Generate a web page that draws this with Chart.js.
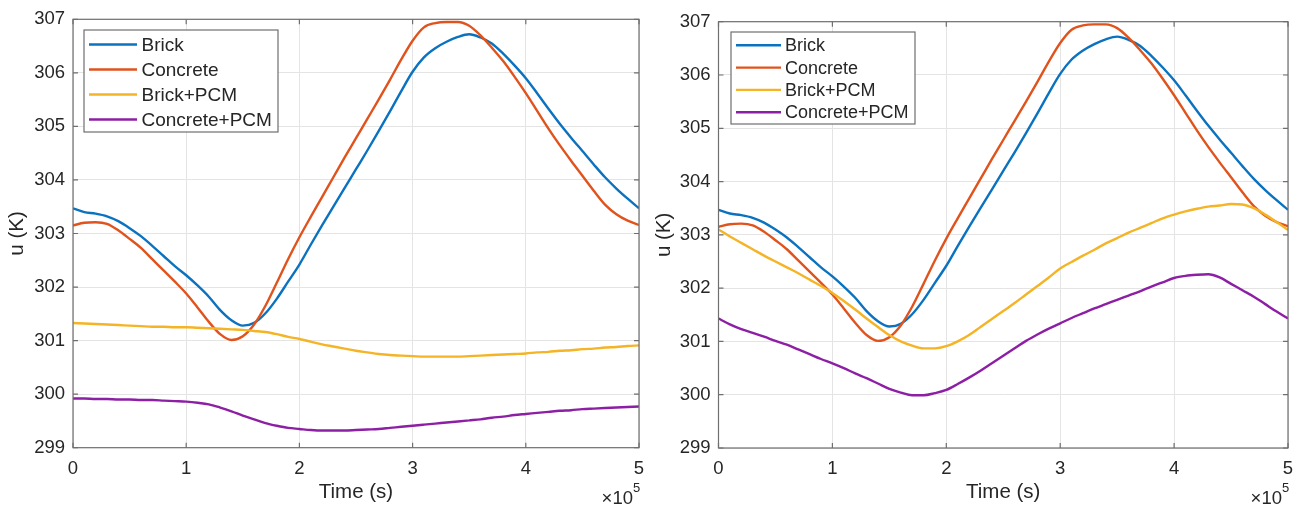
<!DOCTYPE html>
<html><head><meta charset="utf-8">
<script src="https://cdn.jsdelivr.net/npm/chart.js@4.4.0/dist/chart.umd.min.js"></script>
<style>
html,body{margin:0;padding:0;background:#fff;width:1301px;height:507px;overflow:hidden}
#c1{position:absolute;left:0;top:0}
#c2{position:absolute;left:650px;top:0}
</style></head><body>
<canvas id="c1" width="650" height="507"></canvas>
<canvas id="c2" width="651" height="507"></canvas>
<script>
// ---- data (time in units of 1e5 s, temperature u in K) ----
const seriesLabels = ['Brick', 'Concrete', 'Brick+PCM', 'Concrete+PCM'];
const xTicks = [0, 1, 2, 3, 4, 5];
const yTicks = [299, 300, 301, 302, 303, 304, 305, 306, 307];
const time = [0,0.1,0.2,0.3,0.4,0.5,0.6,0.7,0.8,0.9,1,1.1,1.2,1.3,1.4,1.5,1.6,1.7,1.8,1.9,2,2.1,2.2,2.3,2.4,2.5,2.6,2.7,2.8,2.9,3,3.1,3.2,3.3,3.4,3.5,3.6,3.7,3.8,3.9,4,4.1,4.2,4.3,4.4,4.5,4.6,4.7,4.8,4.9,5];
const brick = [303.47,303.40,303.37,303.32,303.23,303.10,302.95,302.77,302.58,302.39,302.22,302.03,301.82,301.57,301.38,301.28,301.33,301.51,301.78,302.10,302.42,302.79,303.15,303.50,303.85,304.20,304.55,304.91,305.28,305.66,306.02,306.29,306.46,306.58,306.67,306.72,306.66,306.55,306.36,306.14,305.90,305.62,305.33,305.05,304.79,304.54,304.29,304.05,303.84,303.65,303.47];
const concrete = [303.15,303.20,303.21,303.18,303.06,302.90,302.73,302.52,302.31,302.10,301.88,301.62,301.35,301.12,301.01,301.08,301.30,301.65,302.08,302.52,302.93,303.31,303.68,304.05,304.42,304.78,305.14,305.50,305.87,306.25,306.60,306.85,306.93,306.95,306.95,306.88,306.70,306.47,306.22,305.93,305.62,305.29,304.96,304.65,304.36,304.08,303.80,303.54,303.36,303.24,303.16];
// left panel
const brickPcmA = [301.33,301.32,301.31,301.30,301.29,301.28,301.27,301.26,301.26,301.25,301.25,301.24,301.23,301.22,301.21,301.20,301.18,301.16,301.12,301.07,301.03,300.98,300.93,300.89,300.85,300.81,300.78,300.75,300.73,300.72,300.71,300.70,300.70,300.70,300.70,300.71,300.72,300.73,300.74,300.75,300.76,300.78,300.79,300.81,300.82,300.84,300.85,300.87,300.88,300.90,300.91];
const concretePcmA = [299.92,299.92,299.91,299.91,299.90,299.90,299.89,299.89,299.88,299.87,299.86,299.84,299.81,299.75,299.68,299.60,299.53,299.46,299.41,299.37,299.35,299.33,299.32,299.32,299.32,299.33,299.34,299.35,299.37,299.39,299.41,299.43,299.45,299.47,299.49,299.51,299.53,299.56,299.58,299.61,299.63,299.65,299.67,299.69,299.70,299.72,299.73,299.74,299.75,299.76,299.77];
// right panel
const brickPcmB = [303.10,302.97,302.85,302.73,302.61,302.50,302.39,302.28,302.16,302.04,301.91,301.76,301.60,301.43,301.27,301.12,301.00,300.92,300.87,300.87,300.91,301.00,301.12,301.27,301.42,301.57,301.72,301.88,302.04,302.20,302.37,302.49,302.61,302.72,302.84,302.94,303.04,303.13,303.22,303.31,303.38,303.44,303.49,303.53,303.55,303.58,303.57,303.50,303.38,303.24,303.09];
const concretePcmB = [301.43,301.32,301.23,301.16,301.09,301.01,300.94,300.85,300.76,300.67,300.59,300.50,300.40,300.31,300.21,300.11,300.04,299.99,299.99,300.03,300.09,300.20,300.32,300.45,300.59,300.73,300.87,301.01,301.13,301.24,301.34,301.44,301.53,301.62,301.70,301.78,301.86,301.94,302.03,302.11,302.19,302.23,302.25,302.26,302.20,302.08,301.96,301.84,301.70,301.56,301.43];

const colors = ['#0b72bf', '#e0531c', '#f4b425', '#8d1fa5'];
const FONT = "'Liberation Sans', Arial, Helvetica, sans-serif";
const TXT = '#262626';
const AXIS = '#6f6f6f';

const pts = arr => arr.map((v, i) => ({x: time[i], y: v}));

const frame = {
  id: 'frame',
  afterDatasetsDraw(chart, args, o) {
    const {ctx, chartArea: a, scales: {x, y}} = chart;
    ctx.save();
    ctx.strokeStyle = AXIS; ctx.lineWidth = 1.2;
    ctx.strokeRect(a.left, a.top, a.right - a.left, a.bottom - a.top);
    const L = 5;
    ctx.beginPath();
    x.ticks.forEach(t => { const p = x.getPixelForValue(t.value);
      ctx.moveTo(p, a.bottom); ctx.lineTo(p, a.bottom - L);
      ctx.moveTo(p, a.top); ctx.lineTo(p, a.top + L); });
    y.ticks.forEach(t => { const p = y.getPixelForValue(t.value);
      ctx.moveTo(a.left, p); ctx.lineTo(a.left + L, p);
      ctx.moveTo(a.right, p); ctx.lineTo(a.right - L, p); });
    ctx.stroke();
    const lg = o.legend;
    const bx = a.left + lg.dx, by = a.top + lg.dy;
    ctx.fillStyle = '#fff'; ctx.fillRect(bx, by, lg.w, lg.h);
    ctx.strokeStyle = AXIS; ctx.lineWidth = 1.2; ctx.strokeRect(bx, by, lg.w, lg.h);
    ctx.font = lg.size + 'px ' + FONT; ctx.textAlign = 'left'; ctx.textBaseline = 'middle';
    chart.data.datasets.forEach((ds, i) => {
      const cy = by + lg.first + i * lg.row;
      ctx.strokeStyle = ds.borderColor; ctx.lineWidth = 2.4;
      ctx.beginPath(); ctx.moveTo(bx + lg.l0, cy); ctx.lineTo(bx + lg.l1, cy); ctx.stroke();
      ctx.fillStyle = TXT; ctx.fillText(ds.label, bx + lg.tx, cy + 1);
    });
    ctx.fillStyle = TXT;
    ctx.font = '18.5px ' + FONT; ctx.textAlign = 'right'; ctx.textBaseline = 'middle';
    ctx.fillText('\u00d710', a.right - 6, 499);
    ctx.font = '13px ' + FONT; ctx.textAlign = 'left';
    ctx.fillText('5', a.right - 6, 488);
    ctx.restore();
  }
};

function makeChart(id, pcmB, pcmC, geo) {
  const data = [brick, concrete, pcmB, pcmC];
  return new Chart(document.getElementById(id), {
    type: 'line',
    data: {
      datasets: data.map((d, i) => ({
        label: seriesLabels[i], data: pts(d), borderColor: colors[i], backgroundColor: colors[i],
        borderWidth: 2.4, pointRadius: 0, cubicInterpolationMode: 'monotone', fill: false, order: 4 - i
      }))
    },
    options: {
      responsive: false, animation: false, events: [],
      layout: {padding: {left: 0, top: geo.top, right: geo.right, bottom: 0}},
      plugins: {legend: {display: false}, tooltip: {enabled: false}, frame: {legend: geo.legend}},
      scales: {
        x: {
          type: 'linear', min: 0, max: 5,
          afterBuildTicks: s => { s.ticks = xTicks.map(v => ({value: v})); },
          afterFit: s => { s.height = geo.xh; s.paddingLeft = 0; s.paddingRight = 0; },
          grid: {color: '#e4e4e4', lineWidth: 1, drawTicks: false},
          border: {display: false},
          ticks: {color: TXT, font: {family: FONT, size: 18.5}, padding: 10, maxRotation: 0, callback: v => String(v)},
          title: {display: true, text: 'Time (s)', color: TXT, font: {family: FONT, size: 20.5}, padding: {top: 0, bottom: 2}}
        },
        y: {
          min: 299, max: 307,
          afterBuildTicks: s => { s.ticks = yTicks.map(v => ({value: v})); },
          afterFit: s => { s.width = geo.yw; s.paddingTop = 0; s.paddingBottom = 0; },
          grid: {color: '#e4e4e4', lineWidth: 1, drawTicks: false},
          border: {display: false},
          ticks: {color: TXT, font: {family: FONT, size: 18.5}, padding: 8, callback: v => String(v)},
          title: {display: true, text: 'u (K)', color: TXT, font: {family: FONT, size: 20.5}, padding: {top: geo.ytp, bottom: 0}}
        }
      }
    },
    plugins: [frame]
  });
}

makeChart('c1', brickPcmA, concretePcmA, {
  top: 19.3, right: 11, xh: 59.3, yw: 73, ytp: 5.5,
  legend: {dx: 11, dy: 10.7, w: 194, h: 102, l0: 5, l1: 53, tx: 57.5, first: 14.5, row: 25, size: 19}
});
makeChart('c2', brickPcmB, concretePcmB, {
  top: 21.7, right: 13, xh: 59, yw: 68.5, ytp: 2.5,
  legend: {dx: 12.5, dy: 10.3, w: 184, h: 92, l0: 5, l1: 50, tx: 54, first: 13.3, row: 22.3, size: 18}
});
</script>
</body></html>
